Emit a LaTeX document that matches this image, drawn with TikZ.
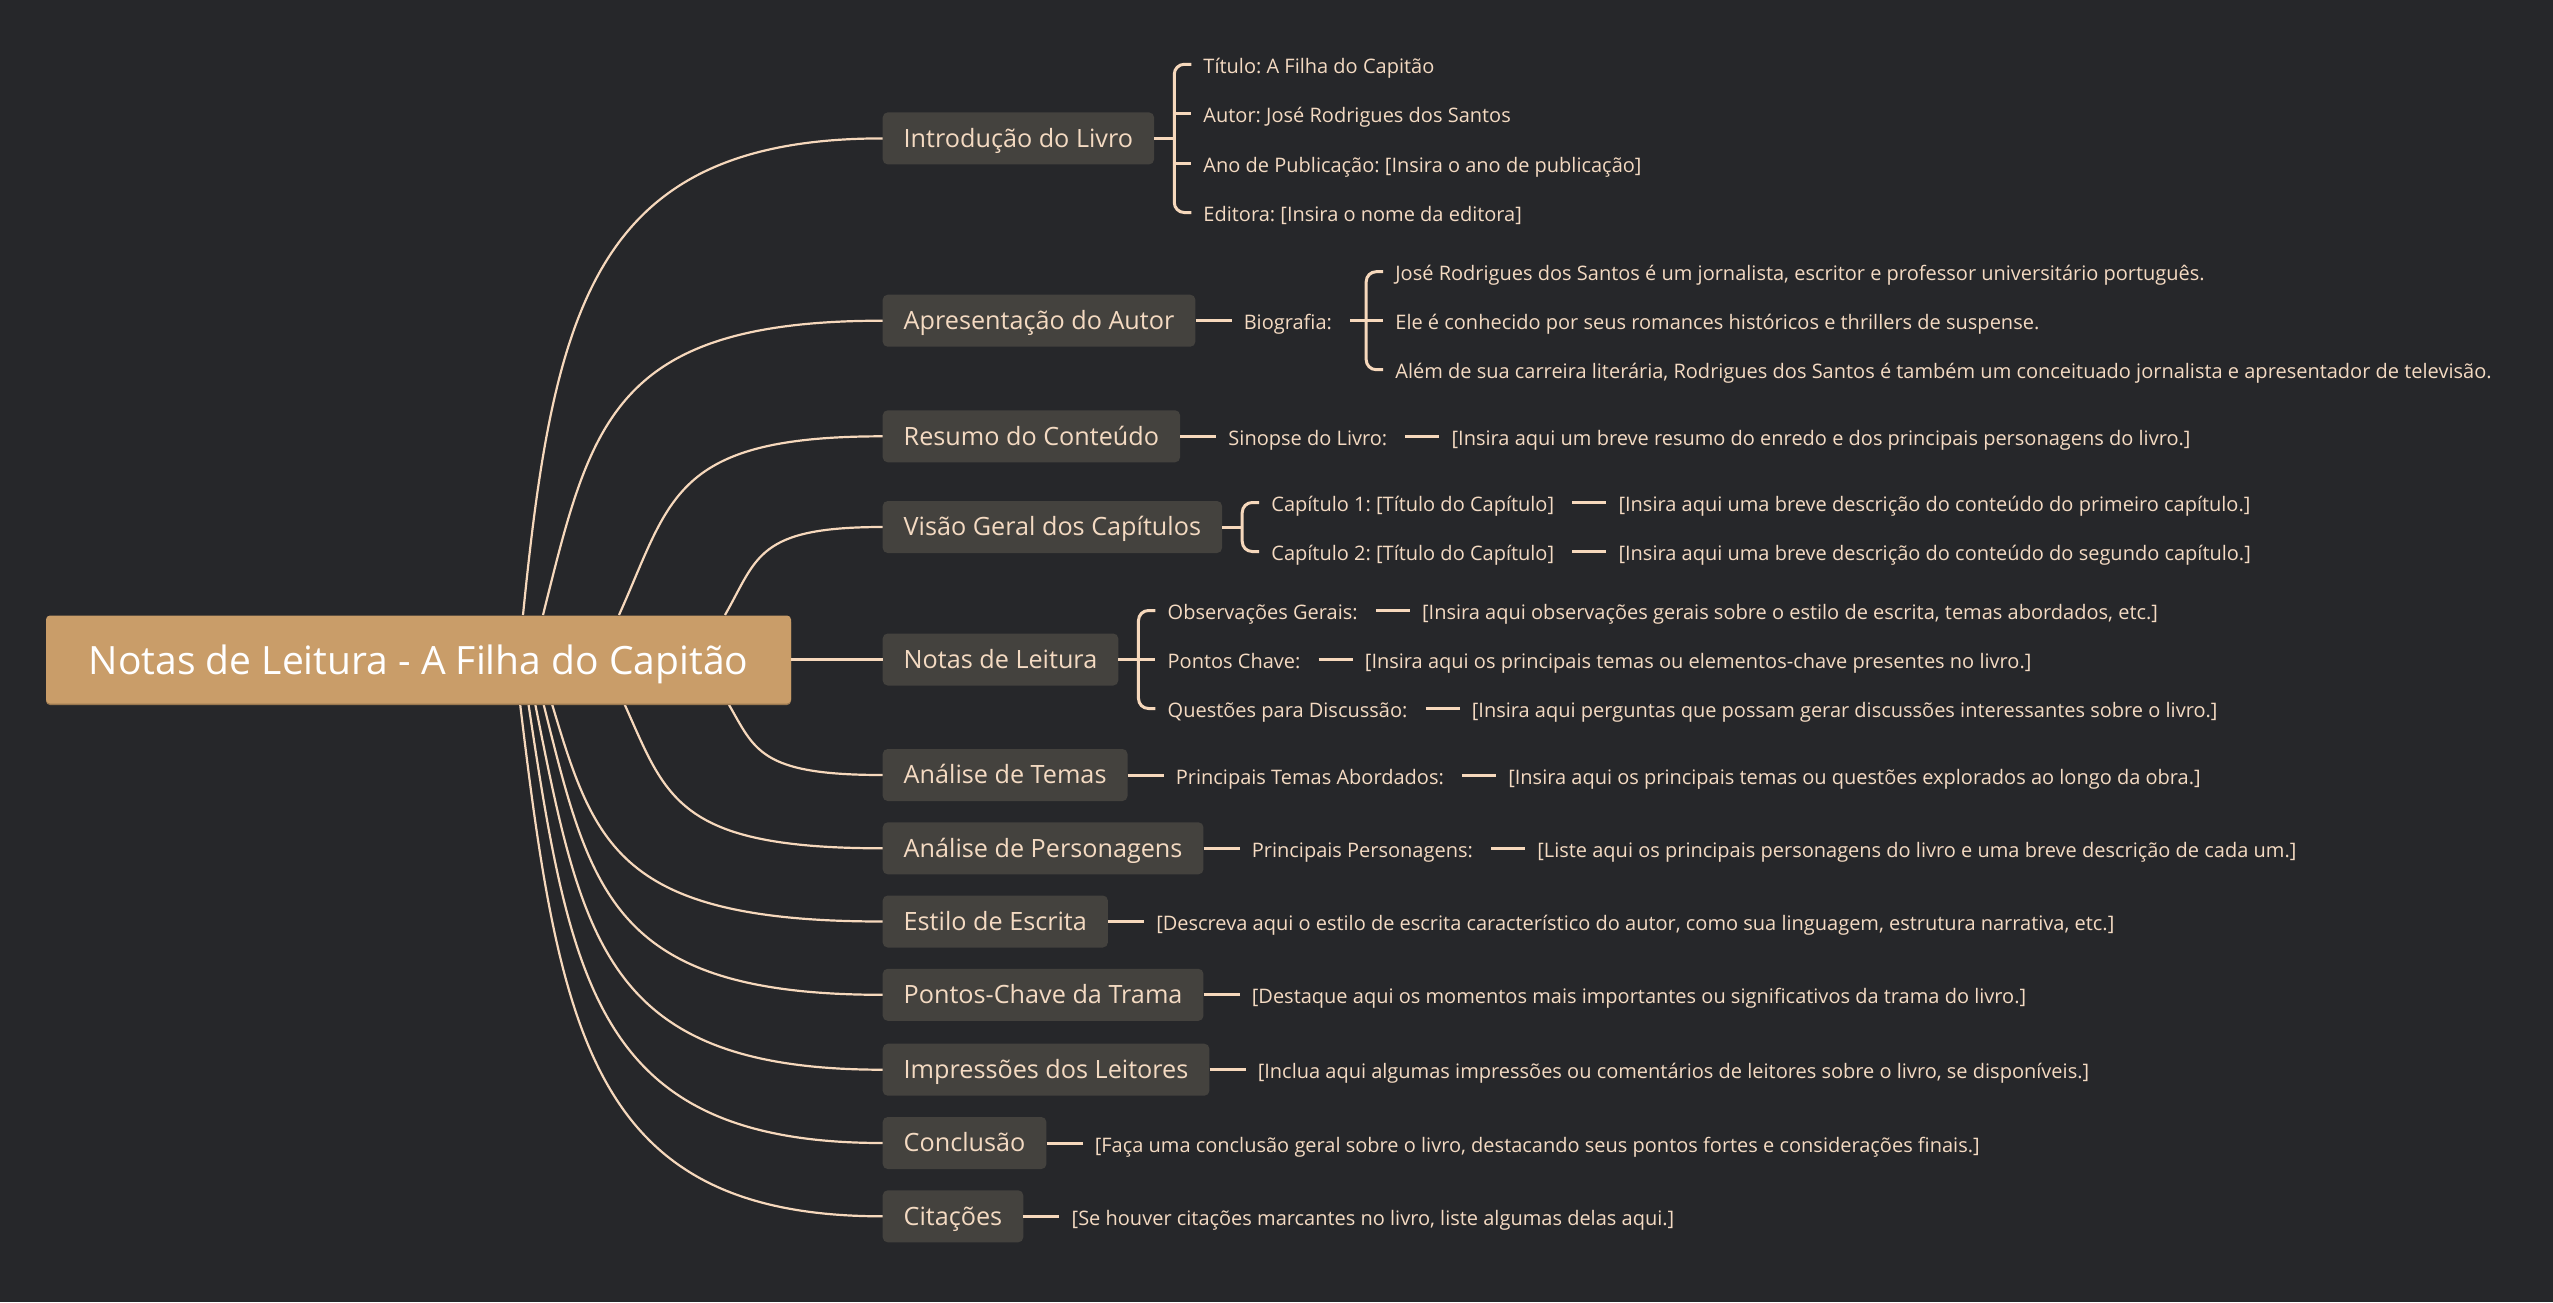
\documentclass[tikz,border=0pt]{standalone}
\usepackage{fontspec}
\setmainfont{Open Sans}
\usetikzlibrary{positioning,calc}
\definecolor{bg}{HTML}{26272A}
\definecolor{boxc}{HTML}{44423E}
\definecolor{rootc}{HTML}{C99D69}
\definecolor{rootsh}{HTML}{9A7850}
\definecolor{linec}{HTML}{F6D8BC}
\definecolor{txtc}{HTML}{F4DAC2}
\frenchspacing
\begin{document}
\begin{tikzpicture}[x=1pt,y=-1pt,
  rootbox/.style={fill=rootc, rounded corners=4pt, minimum width=745pt, minimum height=88pt, inner sep=0pt, text=white, font=\fontsize{39}{44}\selectfont, text height=34.3pt, text depth=4.7pt},
  topic/.style={fill=boxc, rounded corners=5pt, minimum height=52pt, inner xsep=21pt, inner ysep=0pt, anchor=west, text=txtc, font=\fontsize{25.2}{29}\selectfont, text height=20.3pt, text depth=2.9pt},
  leaf/.style={inner xsep=12pt, inner ysep=0pt, anchor=west, text=txtc, font=\fontsize{20}{24}\selectfont, text height=20.4pt, text depth=2.4pt},
  curve/.style={draw=linec, line width=2.2pt},
  link/.style={draw=linec, line width=3pt},
  lnk/.style={draw=linec, line width=3pt, shorten <=6pt},
  brace/.style={draw=linec, line width=3pt, rounded corners=10pt},
]
\useasboundingbox (0,0) rectangle (2553,1302);
\fill[bg] (0,0) rectangle (2553,1302);

% topic boxes
\node[topic] (b1) at (882.5,138.4) {Introdução do Livro};
\node[topic] (b2) at (882.5,320.7) {Apresentação do Autor};
\node[topic] (b3) at (882.5,436.3) {Resumo do Conteúdo};
\node[topic] (b4) at (882.5,527) {Visão Geral dos Capítulos};
\node[topic] (b5) at (882.5,659.5) {Notas de Leitura};
\node[topic] (b6) at (882.5,775) {Análise de Temas};
\node[topic] (b7) at (882.5,848.3) {Análise de Personagens};
\node[topic] (b8) at (882.5,921.5) {Estilo de Escrita};
\node[topic] (b9) at (882.5,994.8) {Pontos-Chave da Trama};
\node[topic] (b10) at (882.5,1069.7) {Impressões dos Leitores};
\node[topic] (b11) at (882.5,1143) {Conclusão};
\node[topic] (b12) at (882.5,1216.3) {Citações};

% curve start points on the root edges
\coordinate (s1) at (523,615);
\coordinate (s2) at (543,615);
\coordinate (s3) at (619,615);
\coordinate (s4) at (725,615);
\coordinate (s6) at (728,703);
\coordinate (s7) at (624,703);
\coordinate (s8) at (551.7,703);
\coordinate (s9) at (543.3,703);
\coordinate (s10) at (535,703);
\coordinate (s11) at (528.3,703);
\coordinate (s12) at (520,703);

\draw[curve] (s1) .. controls +(31,-309.8) and +(-287.6,0) .. (b1.west);
\draw[curve] (s2) .. controls +(47.8,-191.3) and +(-271.6,0) .. (b2.west);
\draw[curve] (s3) .. controls +(52.3,-116.2) and +(-210.8,0) .. (b3.west);
\draw[curve] (s4) .. controls +(32.8,-57.5) and +(-126,0) .. (b4.west);
\draw[curve] (s6) .. controls +(27.1,46.8) and +(-123.6,0) .. (b6.west);
\draw[curve] (s7) .. controls +(42.5,94.4) and +(-206.8,0) .. (b7.west);
\draw[curve] (s8) .. controls +(42.6,142) and +(-264.6,0) .. (b8.west);
\draw[curve] (s9) .. controls +(47.4,189.7) and +(-271.4,0) .. (b9.west);
\draw[curve] (s10) .. controls +(47.7,238.4) and +(-278,0) .. (b10.west);
\draw[curve] (s11) .. controls +(42.9,286) and +(-283.4,0) .. (b11.west);
\draw[curve] (s12) .. controls +(40,333.6) and +(-290,0) .. (b12.west);

% root
\fill[rootsh, rounded corners=4pt] (46,618) rectangle (791,705);
\node[rootbox] (root) at (418.5,659.5) {Notas de Leitura - A Filha do Capitão};
\draw[curve] (root.east) -- (b5.west);

% 1 Introducao
\coordinate (sp1) at ($(b1.east)+(20,0)$);
\node[leaf] (i1) at ($(b1.east)+(37,-74.1)$) {Título: A Filha do Capitão};
\node[leaf] (i2) at ($(b1.east)+(37,-24.7)$) {Autor: José Rodrigues dos Santos};
\node[leaf] (i3) at ($(b1.east)+(37,24.7)$) {Ano de Publicação: [Insira o ano de publicação]};
\node[leaf] (i4) at ($(b1.east)+(37,74.1)$) {Editora: [Insira o nome da editora]};
\draw[link] (b1.east) -- (sp1);
\draw[brace] (i1.west) -| (sp1) |- (i4.west);
\draw[link] (sp1 |- i2.west) -- (i2.west);
\draw[link] (sp1 |- i3.west) -- (i3.west);

% 2 Apresentacao
\node[leaf, right=36pt of b2] (a1) {Biografia:};
\draw[link] (b2.east) -- (a1.west);
\coordinate (sp2) at ($(a1.east)+(22,0)$);
\node[leaf] (a2) at ($(a1.east)+(39,-49)$) {José Rodrigues dos Santos é um jornalista, escritor e professor universitário português.};
\node[leaf] (a3) at ($(a1.east)+(39,0)$) {Ele é conhecido por seus romances históricos e thrillers de suspense.};
\node[leaf] (a4) at ($(a1.east)+(39,49)$) {Além de sua carreira literária, Rodrigues dos Santos é também um conceituado jornalista e apresentador de televisão.};
\draw[lnk] (a1.east) -- (sp2);
\draw[brace] (a2.west) -| (sp2) |- (a4.west);
\draw[link] (sp2) -- (a3.west);

% 3 Resumo
\node[leaf, right=36pt of b3] (r1) {Sinopse do Livro:};
\node[leaf, right=40pt of r1] (r2) {[Insira aqui um breve resumo do enredo e dos principais personagens do livro.]};
\draw[link] (b3.east) -- (r1.west);
\draw[lnk] (r1.east) -- (r2.west);

% 4 Visao geral
\coordinate (sp4) at ($(b4.east)+(20,0)$);
\node[leaf] (v1) at ($(b4.east)+(37,-24.5)$) {Capítulo 1: [Título do Capítulo]};
\node[leaf] (v2) at ($(b4.east)+(37,24.5)$) {Capítulo 2: [Título do Capítulo]};
\node[leaf, right=40pt of v1] (v1d) {[Insira aqui uma breve descrição do conteúdo do primeiro capítulo.]};
\node[leaf, right=40pt of v2] (v2d) {[Insira aqui uma breve descrição do conteúdo do segundo capítulo.]};
\draw[link] (b4.east) -- (sp4);
\draw[brace] (v1.west) -| (sp4) |- (v2.west);
\draw[lnk] (v1.east) -- (v1d.west);
\draw[lnk] (v2.east) -- (v2d.west);

% 5 Notas de leitura
\coordinate (sp5) at ($(b5.east)+(20,0)$);
\node[leaf] (n1) at ($(b5.east)+(37,-49)$) {Observações Gerais:};
\node[leaf] (n2) at ($(b5.east)+(37,0)$) {Pontos Chave:};
\node[leaf] (n3) at ($(b5.east)+(37,49)$) {Questões para Discussão:};
\node[leaf, right=40pt of n1] (n1d) {[Insira aqui observações gerais sobre o estilo de escrita, temas abordados, etc.]};
\node[leaf, right=40pt of n2] (n2d) {[Insira aqui os principais temas ou elementos-chave presentes no livro.]};
\node[leaf, right=40pt of n3] (n3d) {[Insira aqui perguntas que possam gerar discussões interessantes sobre o livro.]};
\draw[link] (b5.east) -- (sp5);
\draw[brace] (n1.west) -| (sp5) |- (n3.west);
\draw[link] (sp5) -- (n2.west);
\draw[lnk] (n1.east) -- (n1d.west);
\draw[lnk] (n2.east) -- (n2d.west);
\draw[lnk] (n3.east) -- (n3d.west);

% 6 Temas
\node[leaf, right=36pt of b6] (t1) {Principais Temas Abordados:};
\node[leaf, right=40pt of t1] (t2) {[Insira aqui os principais temas ou questões explorados ao longo da obra.]};
\draw[link] (b6.east) -- (t1.west);
\draw[lnk] (t1.east) -- (t2.west);

% 7 Personagens
\node[leaf, right=36pt of b7] (p1) {Principais Personagens:};
\node[leaf, right=40pt of p1] (p2) {[Liste aqui os principais personagens do livro e uma breve descrição de cada um.]};
\draw[link] (b7.east) -- (p1.west);
\draw[lnk] (p1.east) -- (p2.west);

% 8-12
\node[leaf, right=36pt of b8] (e1) {[Descreva aqui o estilo de escrita característico do autor, como sua linguagem, estrutura narrativa, etc.]};
\draw[link] (b8.east) -- (e1.west);
\node[leaf, right=36pt of b9] (k1) {[Destaque aqui os momentos mais importantes ou significativos da trama do livro.]};
\draw[link] (b9.east) -- (k1.west);
\node[leaf, right=36pt of b10] (m1) {[Inclua aqui algumas impressões ou comentários de leitores sobre o livro, se disponíveis.]};
\draw[link] (b10.east) -- (m1.west);
\node[leaf, right=36pt of b11] (c1) {[Faça uma conclusão geral sobre o livro, destacando seus pontos fortes e considerações finais.]};
\draw[link] (b11.east) -- (c1.west);
\node[leaf, right=36pt of b12] (q1) {[Se houver citações marcantes no livro, liste algumas delas aqui.]};
\draw[link] (b12.east) -- (q1.west);
\end{tikzpicture}
\end{document}
